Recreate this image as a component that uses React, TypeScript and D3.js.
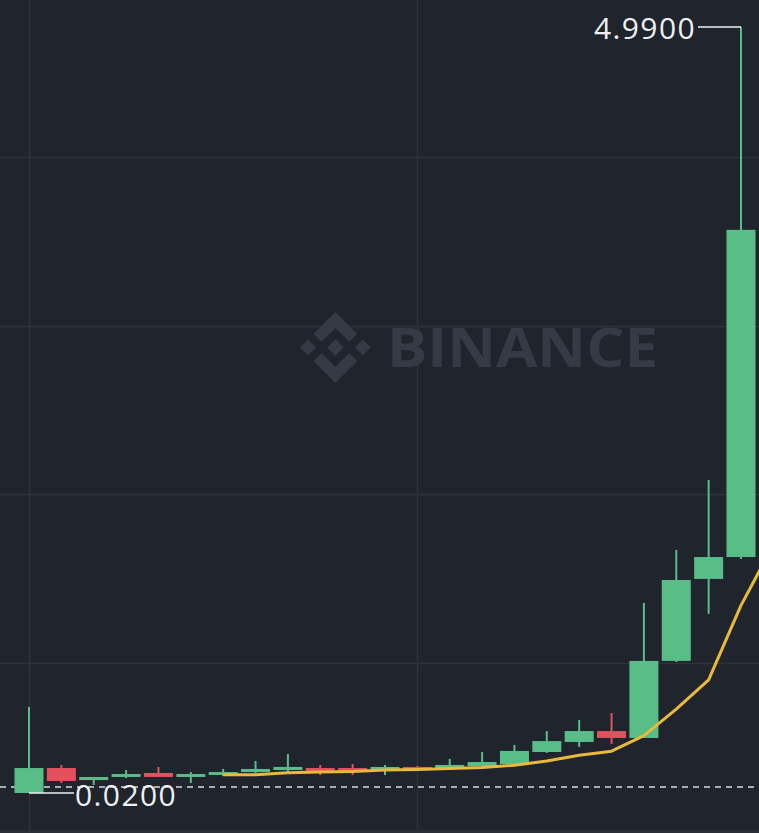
import React from "react";
import * as d3 from "d3";

const W = 759;
const H = 833;

// OHLC
const opens = [0.02, 0.182, 0.104, 0.124, 0.15, 0.124, 0.137, 0.156, 0.169, 0.182, 0.182, 0.163, 0.189, 0.182, 0.195, 0.208, 0.286, 0.351, 0.422, 0.377, 0.877, 1.409, 1.551];
const highs = [0.578, 0.202, 0.124, 0.169, 0.189, 0.156, 0.176, 0.228, 0.273, 0.202, 0.208, 0.202, 0.195, 0.241, 0.286, 0.332, 0.422, 0.494, 0.539, 1.253, 1.597, 2.051, 4.99];
const lows = [0.02, 0.085, 0.072, 0.117, 0.124, 0.085, 0.13, 0.15, 0.15, 0.137, 0.137, 0.137, 0.163, 0.176, 0.182, 0.208, 0.28, 0.319, 0.338, 0.377, 0.87, 1.182, 1.538];
const closes = [0.182, 0.098, 0.124, 0.143, 0.124, 0.143, 0.156, 0.176, 0.189, 0.163, 0.163, 0.189, 0.169, 0.202, 0.221, 0.293, 0.357, 0.422, 0.377, 0.877, 1.402, 1.551, 3.674];

const maPeriod = 7;
const maOffscreen = 1.63;
const gridPrices = [0.864, 1.96, 3.05, 4.147];
const gridIndices = [0, 12];
const maxLabel = "4.9900";
const minLabel = "0.0200";
const maxPrice = 4.99;
const minPrice = 0.02;
const dashedPrice = 0.059;

const BG = "#20242c";
const GRID = "#2d323b";
const GREEN = "#58bd87";
const RED = "#e3515e";
const YELLOW = "#e9b93c";
const TEXT = "#eef0f2";

const logoPaths = [
  "M38.73,53.2,63.3,28.63,87.89,53.22l14.3-14.3L63.3,0,24.43,38.88Z",
  "M0,63.31l14.3-14.3,14.3,14.3L14.3,77.61Z",
  "M38.73,73.41,63.3,98l24.59-24.59,14.3,14.29L63.3,126.61,24.43,87.74Z",
  "M98,63.31l14.3-14.3,14.3,14.3L112.3,77.61Z",
  "M77.81,63.3,63.3,48.78,48.8,63.28,63.3,77.79Z",
];

export default function App() {
  const n = opens.length;
  const x = d3.scaleLinear().domain([0, n - 1]).range([29, 741]);
  const y = d3.scaleLinear().domain([minPrice, maxPrice]).range([793, 27]);
  const bodyW = 29;

  const ma: [number, number][] = [];
  for (let i = maPeriod - 1; i < n; i++) {
    const m = d3.mean(closes.slice(i - maPeriod + 1, i + 1)) as number;
    ma.push([x(i), y(m)]);
  }
  ma.push([x(n), y(maOffscreen)]);
  const line = d3.line<[number, number]>().x((d) => d[0]).y((d) => d[1]);

  const maxIdx = highs.indexOf(d3.max(highs) as number);
  const minIdx = lows.indexOf(d3.min(lows) as number);

  return (
    <svg width={W} height={H} style={{ position: "absolute", left: 0, top: 0, display: "block" }}>
      <rect x={0} y={0} width={W} height={H} fill={BG} />
      <rect x={0} y={830} width={W} height={3} fill="#2a2e36" />
      {gridPrices.map((p, i) => (
        <line key={"h" + i} x1={0} x2={W} y1={Math.round(y(p)) + 0.5} y2={Math.round(y(p)) + 0.5} stroke={GRID} strokeWidth={1.5} />
      ))}
      {gridIndices.map((g, i) => (
        <line key={"v" + i} x1={Math.round(x(g)) + 0.5} x2={Math.round(x(g)) + 0.5} y1={0} y2={H} stroke={GRID} strokeWidth={1.5} />
      ))}
      {/* watermark */}
      <g fill="#353a44">
        <g transform="translate(300,312) scale(0.56)">
          {logoPaths.map((d, i) => (
            <path key={i} d={d} />
          ))}
        </g>
        <text x={387} y={367} fontFamily="'Open Sans', sans-serif" fontWeight={700} fontSize={54} textLength={271} lengthAdjust="spacingAndGlyphs">
          BINANCE
        </text>
      </g>
      {/* dashed price line */}
      <line x1={0} x2={W} y1={y(dashedPrice)} y2={y(dashedPrice)} stroke="#d8dadd" strokeWidth={1.5} strokeDasharray="6 5" />
      {/* candles */}
      {opens.map((o, i) => {
        const c = closes[i];
        const col = c >= o ? GREEN : RED;
        const top = y(Math.max(o, c));
        const bot = y(Math.min(o, c));
        return (
          <g key={i}>
            <line x1={x(i)} x2={x(i)} y1={y(highs[i])} y2={y(lows[i])} stroke={col} strokeWidth={2} />
            <rect x={x(i) - bodyW / 2} y={top} width={bodyW} height={Math.max(2.5, bot - top)} fill={col} />
          </g>
        );
      })}
      {/* MA */}
      <path d={line(ma) || ""} fill="none" stroke={YELLOW} strokeWidth={3} strokeLinejoin="round" />
      {/* max label */}
      <line x1={698} x2={x(maxIdx)} y1={y(highs[maxIdx])} y2={y(highs[maxIdx])} stroke={TEXT} strokeWidth={1.3} />
      <text x={696} y={39} textAnchor="end" fill={TEXT} fontFamily="'Open Sans', sans-serif" fontSize={30} letterSpacing={1.4}>
        {maxLabel}
      </text>
      {/* min label */}
      <line x1={x(minIdx)} x2={74} y1={y(lows[minIdx])} y2={y(lows[minIdx])} stroke={TEXT} strokeWidth={1.3} />
      <text x={75} y={806} fill={TEXT} fontFamily="'Open Sans', sans-serif" fontSize={30} letterSpacing={1.4}>
        {minLabel}
      </text>
    </svg>
  );
}
